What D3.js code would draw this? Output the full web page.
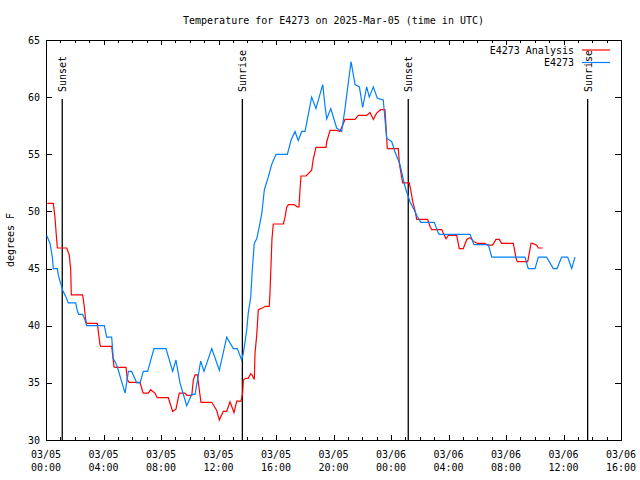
<!DOCTYPE html>
<html><head><meta charset="utf-8">
<script src="https://cdn.jsdelivr.net/npm/d3@7"></script>
<style>
body{margin:0;background:#fff;}
text{font-family:"DejaVu Sans Mono",monospace;font-size:10px;fill:#000;}
</style></head>
<body><svg id="c" width="640" height="480"></svg>
<script>
const titleText = "Temperature for E4273 on 2025-Mar-05 (time in UTC)";
const yLabel = "degrees F";
const seriesNames = ["E4273 Analysis", "E4273"];
const seriesColors = ["#ff0000", "#0080ff"];
const yTicks = [30, 35, 40, 45, 50, 55, 60, 65];
// hours after 2025-03-05 00:00 UTC
const analysisHours = [0.09,0.51,0.63,0.70,0.79,1.44,1.62,1.72,1.76,2.55,2.66,2.76,2.83,3.57,3.76,3.81,4.57,4.73,4.80,5.57,5.66,5.79,6.54,6.73,6.77,7.12,7.28,7.58,7.74,8.51,8.81,9.04,9.27,9.67,9.79,10.14,10.25,10.37,10.53,10.78,11.53,11.87,12.06,12.33,12.57,12.80,13.08,13.27,13.57,13.68,13.73,13.89,14.07,14.24,14.33,14.49,14.54,14.66,14.77,15.12,15.28,15.53,15.58,15.65,15.72,15.81,16.51,16.63,16.74,16.86,17.25,17.48,17.60,17.67,17.74,18.09,18.48,18.59,18.78,19.48,19.53,19.76,20.17,20.45,20.80,21.50,21.73,22.31,22.54,22.77,23.00,23.28,23.58,23.70,23.74,24.51,24.58,24.81,25.27,25.37,25.51,25.67,25.79,26.55,26.71,26.83,27.53,27.64,27.83,27.99,28.57,28.75,29.03,29.27,29.50,29.73,30.00,30.54,30.70,31.07,31.30,31.53,31.70,32.51,32.70,32.79,33.51,33.74,33.86,34.13,34.25,34.55];
const analysisTemps = [50.7,50.7,49.4,48.2,46.8,46.8,46.2,44.9,42.7,42.7,41.7,40.5,40.2,40.2,38.3,38.2,38.2,36.4,36.35,36.35,35.25,35.05,35.05,34.2,34.1,34.1,34.4,34.1,33.7,33.7,32.5,32.7,34.1,34.1,33.9,33.9,35.25,35.7,35.7,33.3,33.3,32.6,31.75,32.5,32.5,33.35,32.4,33.4,33.4,34.1,35.25,35.4,35.4,35.8,35.7,35.3,37.6,39.2,41.4,41.6,41.7,41.7,42.8,45.2,47.6,48.9,48.9,49.5,50.35,50.6,50.6,50.4,50.4,51.9,53.1,53.1,53.6,54.55,55.6,55.6,56.1,57.1,57.1,57.0,58.05,58.05,58.4,58.4,58.65,58.05,58.6,58.9,58.9,56.4,55.5,55.5,54.2,52.5,52.5,51.9,50.85,50.1,49.3,49.3,48.7,48.4,48.4,48.1,47.6,47.9,47.9,46.75,46.75,47.55,47.7,47.4,47.2,47.2,47.05,47.05,47.55,47.55,47.2,47.2,45.9,45.6,45.6,47.2,47.2,47.05,46.8,46.8];
const obsHours = [0.05,0.28,0.44,0.51,0.79,0.86,1.02,1.16,1.39,1.55,2.07,2.14,2.27,2.55,2.71,2.83,4.06,4.22,4.57,4.68,4.87,5.03,5.50,5.73,5.96,6.31,6.54,6.77,7.07,7.51,8.35,8.81,9.04,9.32,9.79,10.14,10.37,10.76,10.99,11.53,12.06,12.57,13.03,13.31,13.61,13.73,13.96,14.07,14.24,14.35,14.49,14.66,14.84,15.01,15.19,15.46,15.70,16.00,16.79,17.04,17.32,17.55,17.79,18.02,18.48,18.78,19.25,19.41,19.53,19.81,20.22,20.57,20.80,20.92,21.22,21.50,21.80,22.03,22.31,22.49,22.77,23.05,23.46,23.70,24.05,24.28,24.63,24.86,25.04,25.32,25.67,25.83,26.07,27.01,27.29,27.36,29.50,29.77,30.77,31.01,33.32,33.55,34.02,34.25,34.83,35.29,35.55,35.87,36.29,36.57,36.80];
const obsTemps = [47.9,47.2,46.0,45.0,45.0,44.4,43.7,43.1,42.5,42.0,42.0,41.5,41.0,41.0,40.5,40.0,40.0,39.0,39.0,37.1,36.7,36.1,34.1,36.0,36.0,35.0,35.0,36.0,36.0,38.0,38.0,36.0,37.0,35.0,33.0,34.0,34.0,36.9,36.0,38.0,36.1,39.0,38.0,38.0,37.0,37.6,39.6,41.1,42.5,44.9,47.2,47.6,48.7,49.8,51.9,53.0,54.1,55.0,55.0,56.2,57.0,56.2,57.0,57.0,60.0,59.0,61.1,59.2,58.1,59.0,57.3,57.0,59.0,60.2,63.1,61.1,60.9,59.1,60.9,60.0,60.9,59.9,59.75,56.4,56.1,55.2,54.1,52.75,51.9,50.85,50.0,49.55,49.05,49.05,48.1,48.0,48.0,47.1,47.1,46.0,46.0,45.0,45.0,46.0,46.0,45.0,45.0,46.0,46.0,45.0,46.0];
const eventHours = [1.13, 13.66, 25.20, 37.68];
const eventLabels = ["Sunset", "Sunrise", "Sunset", "Sunrise"];

const start = Date.UTC(2025, 2, 5, 0, 0);
const toDate = h => new Date(start + h * 3600e3);
const L = 46, R = 621, T = 40, B = 440;
const svg = d3.select("#c");
const x = d3.scaleUtc().domain([toDate(0), toDate(40)]).range([L, R]);
const y = d3.scaleLinear().domain([30, 65]).range([B, T]);

// title
svg.append("text").attr("x", (L + R) / 2).attr("y", 23.5).attr("text-anchor", "middle").text(titleText);
// y label
svg.append("text").attr("transform", `translate(14,${(T + B) / 2}) rotate(-90)`).attr("text-anchor", "middle").text(yLabel);

// axes ticks (inward)
const hourTicks = d3.utcHour.every(1).range(toDate(0), toDate(40.01));
const majorTicks = d3.utcHour.every(4).range(toDate(0), toDate(40.01));
const g = svg.append("g").attr("shape-rendering", "crispEdges");
function axisLines(axisFn, ticks, size, tr) {
  const a = axisFn.tickValues(ticks).tickSize(size).tickFormat("");
  const gg = g.append("g").attr("transform", tr).call(a);
  gg.select(".domain").remove();
  gg.selectAll("line").attr("stroke", "#000");
}
axisLines(d3.axisBottom(x), hourTicks, -3, `translate(0,${B})`);
axisLines(d3.axisBottom(x), majorTicks, -5, `translate(0,${B})`);
axisLines(d3.axisTop(x), hourTicks, -3, `translate(0,${T})`);
axisLines(d3.axisTop(x), majorTicks, -5, `translate(0,${T})`);
axisLines(d3.axisLeft(y), yTicks, -6, `translate(${L},0)`);
axisLines(d3.axisRight(y), yTicks, -6, `translate(${R},0)`);

// frame
svg.append("rect").attr("x", L + 0.5).attr("y", T + 0.5).attr("width", R - L).attr("height", B - T)
  .attr("fill", "none").attr("stroke", "#000").attr("shape-rendering", "crispEdges");

// tick labels
const fmtD = d3.utcFormat("%m/%d"), fmtT = d3.utcFormat("%H:%M");
const xl = svg.append("g").selectAll("text").data(majorTicks).join("text")
  .attr("text-anchor", "middle");
xl.append("tspan").attr("x", d => x(d)).attr("y", 458).text(fmtD);
xl.append("tspan").attr("x", d => x(d)).attr("y", 471).text(fmtT);
svg.append("g").selectAll("text").data(yTicks).join("text")
  .attr("x", 40).attr("y", d => y(d) + 3.5).attr("text-anchor", "end").text(d => d);

// events
eventHours.forEach((h, i) => {
  const ex = x(toDate(h));
  svg.append("line").attr("x1", ex).attr("x2", ex).attr("y1", 99).attr("y2", B)
    .attr("stroke", "#000").attr("stroke-width", 1.3);
  svg.append("text").attr("transform", `translate(${ex + 4},92) rotate(-90)`).text(eventLabels[i]);
});

// series
const line = d3.line().x(d => x(toDate(d[0]))).y(d => y(d[1]));
const sData = [d3.zip(analysisHours, analysisTemps), d3.zip(obsHours, obsTemps)];
sData.forEach((d, i) => {
  svg.append("path").datum(d).attr("d", line).attr("fill", "none")
    .attr("stroke", seriesColors[i]).attr("stroke-width", 1.2);
});

// legend
seriesNames.forEach((n, i) => {
  const ly = 50 + i * 12.5;
  svg.append("text").attr("x", 574).attr("y", ly + 3.5).attr("text-anchor", "end").text(n);
  svg.append("line").attr("x1", 582).attr("x2", 610).attr("y1", ly).attr("y2", ly)
    .attr("stroke", seriesColors[i]).attr("stroke-width", 1.2);
});
</script></body></html>
